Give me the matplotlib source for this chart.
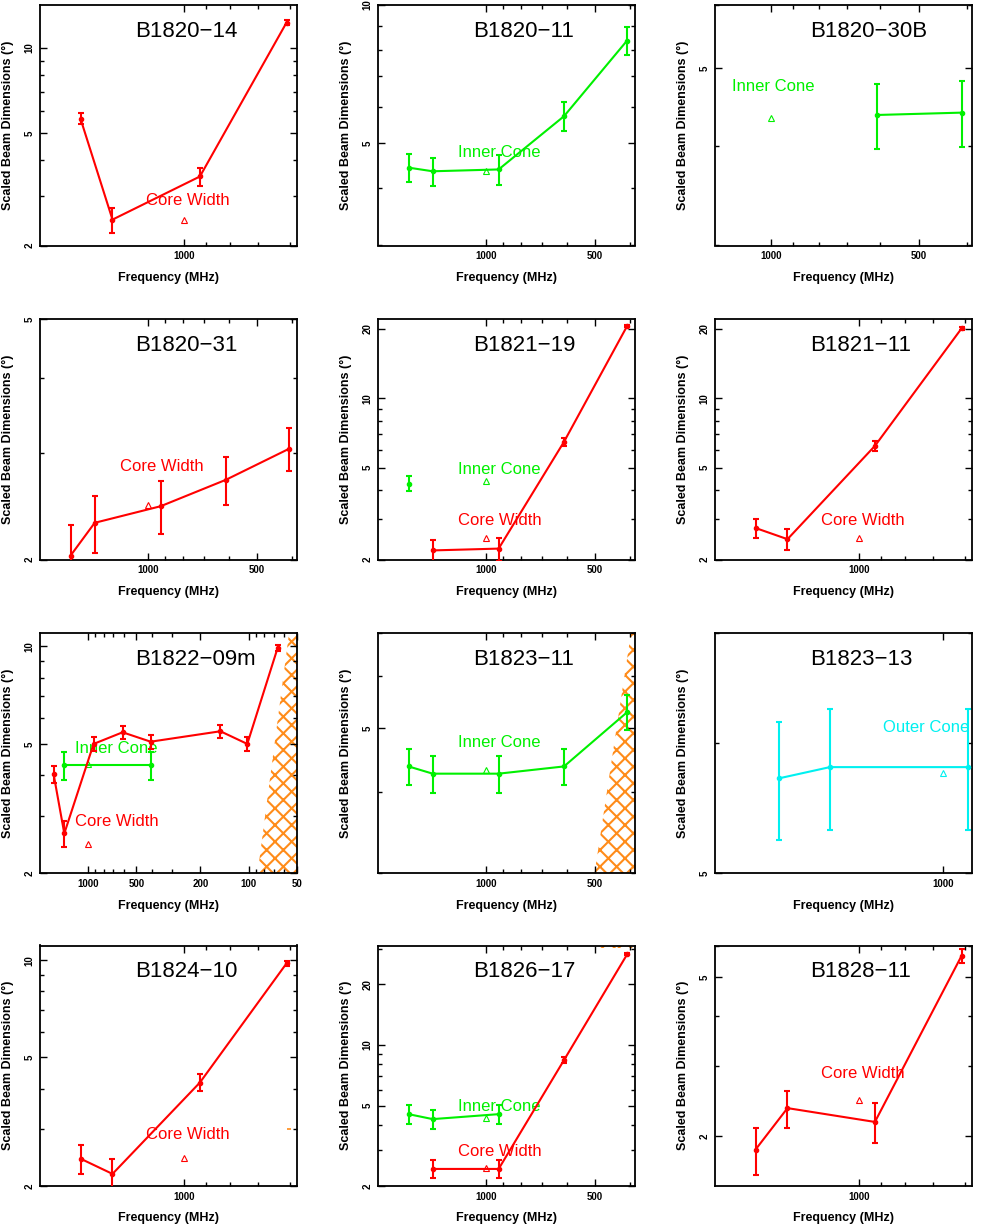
import numpy as np
import matplotlib
matplotlib.use('Agg')
import matplotlib.pyplot as plt
from matplotlib.ticker import FixedLocator, FuncFormatter, NullFormatter
from matplotlib.patches import Polygon

plt.rcParams['font.family'] = ['Liberation Sans', 'DejaVu Sans']
plt.rcParams['hatch.linewidth'] = 1.5

RED = '#ff0000'
GREEN = '#00f000'
CYAN = '#00f0f0'
ORANGE = '#ff8c1a'

# ---------------- data (frequency MHz, scaled width deg, error) ----------------
# B1820-14
b1820_14_core_f = [1642, 1408, 925, 610]
b1820_14_core_w = [5.62, 2.47, 3.51, 12.3]
b1820_14_core_e = [0.25, 0.25, 0.25, 0.25]
b1820_14_ref_core = 2.47

# B1820-11
b1820_11_inner_f = [1642, 1408, 925, 610, 408]
b1820_11_inner_w = [4.43, 4.35, 4.39, 5.73, 8.37]
b1820_11_inner_e = [0.31, 0.31, 0.32, 0.42, 0.60]
b1820_11_ref_inner = 4.35

# B1820-30B
b1820_30b_inner_f = [610, 408]
b1820_30b_inner_w = [4.37, 4.40]
b1820_30b_inner_e = [0.41, 0.42]
b1820_30b_ref_inner = 4.33

# B1820-31
b1820_31_core_f = [1642, 1408, 925, 610, 408]
b1820_31_core_w = [2.03, 2.30, 2.45, 2.71, 3.05]
b1820_31_core_e = [0.25, 0.25, 0.25, 0.25, 0.25]
b1820_31_ref_core = 2.46

# B1821-19
b1821_19_core_f = [1408, 925, 610, 408]
b1821_19_core_w = [2.19, 2.23, 6.48, 20.6]
b1821_19_core_e = [0.25, 0.25, 0.28, 0.25]
b1821_19_inner_f = [1642]
b1821_19_inner_w = [4.27]
b1821_19_inner_e = [0.32]
b1821_19_ref_core = 2.49
b1821_19_ref_inner = 4.37

# B1821-11
b1821_11_core_f = [1642, 1408, 925, 610]
b1821_11_core_w = [2.74, 2.45, 6.22, 20.1]
b1821_11_core_e = [0.25, 0.25, 0.30, 0.25]
b1821_11_ref_core = 2.48

# B1822-09m
b1822_09m_core_f = [1642, 1408, 925, 610, 408, 150, 102, 66]
b1822_09m_core_w = [4.04, 2.65, 5.00, 5.43, 5.08, 5.47, 5.00, 9.88]
b1822_09m_core_e = [0.25, 0.25, 0.25, 0.25, 0.25, 0.25, 0.25, 0.23]
b1822_09m_inner_f = [1408, 408]
b1822_09m_inner_w = [4.30, 4.30]
b1822_09m_inner_e = [0.42, 0.42]
b1822_09m_ref_core = 2.46
b1822_09m_ref_inner = 4.33
b1822_09m_scat_f = [88, 56]
b1822_09m_scat_w = [2.0, 11.0]

# B1823-11
b1823_11_inner_f = [1642, 1408, 925, 610, 408]
b1823_11_inner_w = [4.37, 4.26, 4.26, 4.37, 5.29]
b1823_11_inner_e = [0.28, 0.28, 0.28, 0.28, 0.33]
b1823_11_ref_inner = 4.32
b1823_11_scat_f = [502, 398]
b1823_11_scat_w = [3.0, 7.0]

# B1823-13
b1823_13_outer_f = [1642, 1408, 925]
b1823_13_outer_w = [5.71, 5.80, 5.80]
b1823_13_outer_e = [0.47, 0.49, 0.49]
b1823_13_ref_outer = 5.75

# B1824-10
b1824_10_core_f = [1642, 1408, 925, 610]
b1824_10_core_w = [2.43, 2.18, 4.18, 9.77]
b1824_10_core_e = [0.25, 0.24, 0.25, 0.20]
b1824_10_ref_core = 2.44
b1824_10_scat_f = [603]
b1824_10_scat_w = [3.0]

# B1826-17
b1826_17_core_f = [1408, 925, 610, 408]
b1826_17_core_w = [2.43, 2.43, 8.41, 28.1]
b1826_17_core_e = [0.25, 0.25, 0.30, 0.30]
b1826_17_inner_f = [1642, 1408, 925]
b1826_17_inner_w = [4.54, 4.29, 4.54]
b1826_17_inner_e = [0.48, 0.45, 0.48]
b1826_17_ref_core = 2.45
b1826_17_ref_inner = 4.34
b1826_17_scat_f = [485, 390]
b1826_17_scat_w = [30.3, 40.0]

# B1828-11
b1828_11_core_f = [1642, 1408, 925, 610]
b1828_11_core_w = [1.85, 2.35, 2.17, 5.65]
b1828_11_core_e = [0.25, 0.25, 0.25, 0.22]
b1828_11_ref_core = 2.46

REF_FREQ = 1000
LABEL_FREQ = 1200

# ---------------- panel setup ----------------
panels = [
    dict(name='B1820\u221214', xlim=(1995, 580), ylim=(2, 14.2),
         series=[(b1820_14_core_f, b1820_14_core_w, b1820_14_core_e, RED)],
         refs=[(b1820_14_ref_core, RED)],
         texts=[('Core Width', 2.89, RED)]),
    dict(name='B1820\u221211', xlim=(1995, 388), ylim=(3, 10),
         series=[(b1820_11_inner_f, b1820_11_inner_w, b1820_11_inner_e, GREEN)],
         refs=[(b1820_11_ref_inner, GREEN)],
         texts=[('Inner Cone', 4.79, GREEN)]),
    dict(name='B1820\u221230B', xlim=(1300, 390), ylim=(3, 6),
         series=[(b1820_30b_inner_f, b1820_30b_inner_w, b1820_30b_inner_e, GREEN)],
         refs=[(b1820_30b_ref_inner, GREEN)],
         texts=[('Inner Cone', 4.75, GREEN)]),
    dict(name='B1820\u221231', xlim=(1995, 388), ylim=(2, 5),
         series=[(b1820_31_core_f, b1820_31_core_w, b1820_31_core_e, RED)],
         refs=[(b1820_31_ref_core, RED)],
         texts=[('Core Width', 2.85, RED)]),
    dict(name='B1821\u221219', xlim=(1995, 388), ylim=(2, 22.1),
         series=[(b1821_19_core_f, b1821_19_core_w, b1821_19_core_e, RED),
                 (b1821_19_inner_f, b1821_19_inner_w, b1821_19_inner_e, GREEN)],
         refs=[(b1821_19_ref_core, RED), (b1821_19_ref_inner, GREEN)],
         texts=[('Inner Cone', 4.91, GREEN), ('Core Width', 2.94, RED)]),
    dict(name='B1821\u221211', xlim=(1995, 580), ylim=(2, 22.1),
         series=[(b1821_11_core_f, b1821_11_core_w, b1821_11_core_e, RED)],
         refs=[(b1821_11_ref_core, RED)],
         texts=[('Core Width', 2.94, RED)]),
    dict(name='B1822\u221209m', xlim=(1995, 50), ylim=(2, 11),
         series=[(b1822_09m_inner_f, b1822_09m_inner_w, b1822_09m_inner_e, GREEN),
                 (b1822_09m_core_f, b1822_09m_core_w, b1822_09m_core_e, RED)],
         refs=[(b1822_09m_ref_core, RED), (b1822_09m_ref_inner, GREEN)],
         texts=[('Inner Cone', 4.83, GREEN), ('Core Width', 2.88, RED)],
         scat=('line', b1822_09m_scat_f, b1822_09m_scat_w)),
    dict(name='B1823\u221211', xlim=(1995, 388), ylim=(3, 7),
         series=[(b1823_11_inner_f, b1823_11_inner_w, b1823_11_inner_e, GREEN)],
         refs=[(b1823_11_ref_inner, GREEN)],
         texts=[('Inner Cone', 4.76, GREEN)],
         scat=('line', b1823_11_scat_f, b1823_11_scat_w)),
    dict(name='B1823\u221213', xlim=(1995, 915), ylim=(5, 7),
         series=[(b1823_13_outer_f, b1823_13_outer_w, b1823_13_outer_e, CYAN)],
         refs=[(b1823_13_ref_outer, CYAN)],
         texts=[('Outer Cone', 6.13, CYAN)]),
    dict(name='B1824\u221210', xlim=(1995, 580), ylim=(2, 11.1),
         series=[(b1824_10_core_f, b1824_10_core_w, b1824_10_core_e, RED)],
         refs=[(b1824_10_ref_core, RED)],
         texts=[('Core Width', 2.89, RED)],
         scat=('dot', b1824_10_scat_f, b1824_10_scat_w)),
    dict(name='B1826\u221217', xlim=(1995, 388), ylim=(2, 31.1),
         series=[(b1826_17_inner_f, b1826_17_inner_w, b1826_17_inner_e, GREEN),
                 (b1826_17_core_f, b1826_17_core_w, b1826_17_core_e, RED)],
         refs=[(b1826_17_ref_core, RED), (b1826_17_ref_inner, GREEN)],
         texts=[('Inner Cone', 4.94, GREEN), ('Core Width', 2.95, RED)],
         scat=('box', b1826_17_scat_f, b1826_17_scat_w)),
    dict(name='B1828\u221211', xlim=(1995, 580), ylim=(1.5, 6),
         series=[(b1828_11_core_f, b1828_11_core_w, b1828_11_core_e, RED)],
         refs=[(b1828_11_ref_core, RED)],
         texts=[('Core Width', 2.87, RED)]),
]


def scatter_polygon(kind, f_pts, w_pts):
    if kind == 'box':
        return [(f_pts[0], w_pts[0]), (f_pts[1], w_pts[0]),
                (f_pts[1], w_pts[1]), (f_pts[0], w_pts[1])]
    # power-law boundary through the two points, hatched toward low frequency
    lf = np.log10(f_pts)
    lw = np.log10(w_pts)
    slope = (lw[1] - lw[0]) / (lf[1] - lf[0])
    f_bot = 10 ** (lf[0] + (0 - lw[0]) / slope)
    f_top = 10 ** (lf[0] + (2 - lw[0]) / slope)
    return [(f_bot, 1), (f_top, 100), (1, 100), (1, 1)]


# PGPLOT-like log ticks: labelled at 1, 2, 5 x 10^n, small ticks elsewhere
decades = 10.0 ** np.arange(-1, 5)
major_ticks = np.outer(decades, [1, 2, 5]).ravel()
minor_ticks = np.outer(decades, [3, 4, 6, 7, 8, 9]).ravel()

W, H = 981, 1226
fig = plt.figure(figsize=(W / 100, H / 100), dpi=100)

col_left = [40, 378, 715]
row_top = [5, 319, 632.7, 945.5]
ax_w, ax_h = 257, 240.5

tick_fmt = FuncFormatter(lambda v, pos: f'{v:g}')

for i, p in enumerate(panels):
    r, c = divmod(i, 3)
    ax = fig.add_axes([col_left[c] / W, 1 - (row_top[r] + ax_h) / H, ax_w / W, ax_h / H])
    ax.set_xscale('log')
    ax.set_yscale('log')

    if 'scat' in p:
        kind, sf, sw = p['scat']
        if kind == 'dot':
            ax.plot(sf, sw, marker='_', ms=3, mew=1.2, color=ORANGE, ls='none', zorder=1)
        else:
            poly = Polygon(scatter_polygon(kind, sf, sw), closed=True, fill=False,
                           hatch='xx', edgecolor=ORANGE, lw=0, zorder=1)
            ax.add_patch(poly)

    for txt, ty, col in p['texts']:
        ax.text(LABEL_FREQ, ty, txt, color=col, fontsize=12, ha='left', va='center',
                zorder=1.5, clip_on=True)

    for f, w, e, col in p['series']:
        ax.errorbar(f, w, yerr=e, fmt='-o', color=col, lw=1.5, elinewidth=1.5,
                    capsize=2, capthick=1.5, ms=3, zorder=3)

    for ry, col in p['refs']:
        ax.plot([REF_FREQ], [ry], marker='^', ms=5, mfc='none', mec=col, mew=0.8,
                ls='none', zorder=2.5)

    ax.set_xlim(*p['xlim'])
    ax.set_ylim(*p['ylim'])

    for axis in (ax.xaxis, ax.yaxis):
        axis.set_major_locator(FixedLocator(major_ticks))
        axis.set_minor_locator(FixedLocator(minor_ticks))
        axis.set_major_formatter(tick_fmt)
        axis.set_minor_formatter(NullFormatter())

    ax.tick_params(which='both', direction='in', top=True, right=True, width=1.0)
    ax.tick_params(which='major', length=5)
    ax.tick_params(which='minor', length=3)
    ax.tick_params(axis='x', labelsize=7, pad=4)
    ax.tick_params(axis='y', labelsize=7, pad=4, labelrotation=90)
    for t in ax.get_xticklabels():
        t.set_fontweight('bold')
    for t in ax.get_yticklabels():
        t.set_fontweight('bold')
        t.set_verticalalignment('center')

    for s in ax.spines.values():
        s.set_linewidth(1.3)

    ax.text(0.372, 0.89, p['name'], transform=ax.transAxes, fontsize=16,
            ha='left', va='center', color='black')

    ax.set_xlabel('Frequency (MHz)', fontsize=9, fontweight='bold')
    ax.xaxis.set_label_coords(0.5, -0.11)
    ax.set_ylabel('Scaled Beam Dimensions (\u00b0)', fontsize=9, fontweight='bold')
    ax.yaxis.set_label_coords(-0.10, 0.5)

fig.savefig('out.png', dpi=100)
